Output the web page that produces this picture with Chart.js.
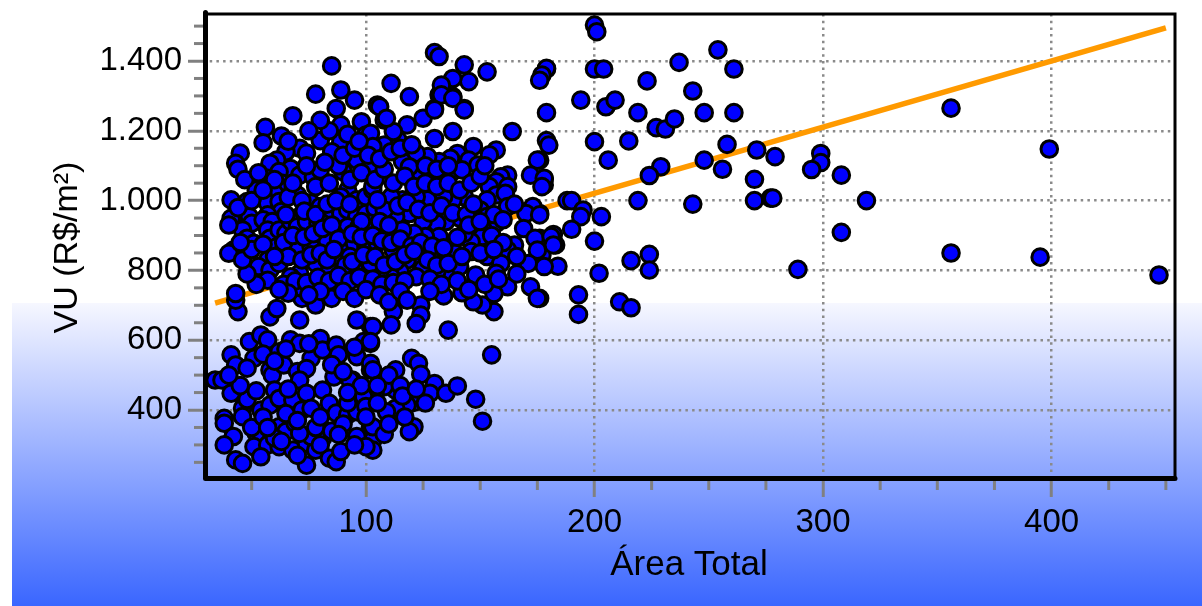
<!DOCTYPE html>
<html>
<head>
<meta charset="utf-8">
<script src="https://cdn.jsdelivr.net/npm/chart.js@4.4.1/dist/chart.umd.min.js"></script>
<style>
  html, body { margin: 0; padding: 0; background: #fff; }
  #wrap { width: 1202px; height: 606px; }
</style>
</head>
<body>
<div id="wrap"><canvas id="grafico" width="1202" height="606"></canvas></div>
<script>
// amostras [área total, VU]
const pontosDispersos = [
  [200,1503],[201,1484],[254,1432],[237,1396],[179,1377],[200,1377],[204,1377],[261,1377],[223,1343],[243,1314],
  [194,1288],[205,1269],[209,1288],[179,1252],[219,1252],[248,1252],[261,1252],[227,1209],[231,1205],[235,1234],
  [179,1172],[180,1159],[200,1169],[215,1171],[258,1161],[176,1116],[206,1116],[271,1145],[279,1126],[299,1135],
  [299,1109],[295,1089],[308,1073],[248,1116],[229,1097],[224,1072],[256,1090],[270,1061],[178,1062],[178,1045],
  [176,963],[188,1000],[190,1000],[219,1000],[243,990],[270,1000],[277,1007],[278,1007],[319,1000],[308,909],
  [289,803],[195,973],[194,954],[203,954],[190,918],[182,903],[183,873],[176,892],[177,844],[200,884],
  [184,812],[202,792],[216,828],[224,846],[224,801],[176,720],[193,730],[193,674],[211,710],[216,693],
  [356,1265],[356,850],[399,1148],[395,838],[447,787]
];

const pontosBaixosDireita = [
  [136,629],[155,558],[120,548],[123,534],[124,502],[113,515],[130,476],[128,448],[135,448],[140,469],
  [148,431],[151,368],[121,422],[118,414],[121,352],[119,338],[113,457],[108,467],[113,405],[109,395],
  [102,352],[103,314],[103,285],[102,515],[104,448],[102,591],[162,753],[172,753],[175,720],[156,682],
  [151,701],[147,710],[156,734],[142,736],[134,727],[124,701],[124,672],[122,648],[112,682],[111,644],
  [102,639],[148,768]
];

const pontosBaixosEsquerda = [
  [44,682],[43,715],[43,734],[71,658],[58,667],[61,691],[78,701],[72,720],[72,749],[96,658],
  [103,639],[49,596],[54,615],[57,601],[41,558],[43,529],[51,548],[62,567],[67,601],[71,591],
  [58,515],[59,500],[64,529],[70,510],[76,548],[74,519],[71,486],[80,605],[81,572],[87,586],
  [88,558],[34,486],[37,486],[43,452],[41,448],[46,405],[38,376],[46,381],[54,400],[58,414],
  [60,457],[62,433],[68,429],[72,400],[74,448],[76,405],[81,457],[86,495],[94,486],[84,419],
  [87,391],[62,352],[65,338],[69,362],[38,362],[42,324],[38,300],[52,333],[51,295],[57,300],
  [43,257],[46,247],[54,266],[62,295],[68,285],[74,305],[78,285],[81,319],[74,242],[84,262],
  [87,252],[89,281],[76,324],[71,333],[96,324],[103,352],[100,295],[93,486],[99,438],[92,386],
  [96,395],[100,410],[96,553],[102,534],[103,515],[99,596],[102,596],
  [48,430],[50,350],[55,380],[60,320],[65,390],[66,460],[70,370],[78,350],[80,380],[85,340],
  [90,360],[92,420],[95,300],[98,470],[100,380],[105,420],[108,330],[110,500],[115,470],[116,440],
  [55,560],[60,540],[65,575],[75,590],[85,530],[90,510],[95,580],[48,520],[52,455],[57,350],
  [63,310],[70,270],[80,300],[88,330],[92,450],[45,470],[40,500],[105,470],[110,360],[117,380],
  [122,460],[126,420]
];

const pontosAltosEsquerda = [
  [68,1243],[56,1210],[55,1166],[63,1185],[45,1136],[43,1107],[44,1090],[78,1305],[89,1317],[95,1288],
  [87,1264],[89,1217],[98,1226],[100,1188],[89,1169],[80,1172],[71,1150],[74,1136],[65,1140],[61,1116],
  [85,1140],[96,1116],[90,1083],[67,1092],[71,1073],[77,1068],[80,1088],[58,1107],[62,1083],[57,1064],
  [63,1050],[68,1030],[60,1021],[70,1016],[52,1050],[52,1030],[55,1012],[41,1002],[48,997],[43,959],
  [41,949],[57,993],[62,997],[63,969],[57,959],[76,993],[80,983],[71,955],[49,954],[50,935],
  [55,945],[59,940],[46,916],[48,892],[51,878],[57,916],[58,892],[62,916],[61,868],[65,906],
  [67,940],[70,925],[74,940],[79,935],[82,954],[85,973],[89,963],[42,858],[40,849],[63,849],
  [57,830],[53,811],[70,858],[76,868],[78,820],[71,792],[58,801],[57,772],[92,1030],[89,1011],
  [96,1002],[100,1011],[103,1030],[92,973],[96,954],[100,963],[104,978],[92,925],[97,925],[103,925],
  [86,906],[83,887],[89,868],[95,878],[100,868],[87,840],[93,840],[100,830],[84,801],[90,801],
  [96,801],[102,811],[67,782],[85,1386]
];

const pontosCentro = [
  [119,1298],[138,1298],[132,1303],[143,1264],[130,1264],[125,1236],[118,1217],[108,1231],[105,1274],[164,1198],
  [138,1198],[130,1178],[114,1174],[112,1198],[108,1159],[147,1155],[157,1145],[154,1131],[140,1135],[145,1116],
  [149,1102],[137,1121],[132,1112],[127,1126],[122,1136],[116,1112],[175,1116],[172,1073],[178,1064],[177,1040],
  [162,1073],[159,1068],[157,1054],[154,1040],[162,1040],[138,1083],[142,1088],[132,1068],[128,1078],[124,1078],
  [119,1097],[157,1016],[161,1021],[153,1002],[162,983],[143,1011],[138,1002],[134,1011],[127,1002],[122,1011],
  [116,1002],[111,1011],[173,983],[170,963],[176,959],[150,973],[153,954],[157,935],[151,920],[141,950],
  [135,940],[131,935],[125,940],[119,963],[113,954],[108,973],[169,920],[174,892],[181,897],[182,873],
  [151,897],[146,882],[143,906],[137,878],[132,897],[126,897],[121,906],[116,916],[109,906],[165,873],
  [162,858],[175,858],[178,811],[171,820],[153,840],[159,820],[146,854],[139,849],[134,830],[128,849],
  [124,820],[118,830],[112,858],[148,787],[157,792],[137,792],[141,811],[131,797],[125,806],[122,782],
  [115,797],[111,782],[106,797],[102,1193],[103,1155],[102,1097],[103,1040],[105,1002],[102,935],[105,878],
  [102,820],[130,1424],[132,1413],[143,1389],[153,1369],[145,1341],[138,1350],[133,1331],[133,1303],[138,1293],
  [143,1260],[111,1336],[179,1379],[177,1360],[176,1345],[130,1260],[106,1269],[109,1236]
];

const pontosNucleo = [
  [66,1010],[72,1000],[78,1040],[84,1050],[88,1100],[93,1060],[98,1080],[104,1060],[108,1090],[112,1050],
  [117,1070],[121,1040],[126,1050],[131,1040],[136,1050],[141,1030],[146,1050],[150,1070],[152,1100],
  [65,960],[73,970],[78,960],[83,990],[87,1000],[93,990],[98,940],[106,940],[110,930],[114,985],
  [118,995],[123,975],[128,965],[133,985],[138,965],[144,960],[147,990],[156,960],[160,945],[165,990],
  [64,880],[68,900],[73,895],[77,905],[81,920],[85,930],[88,890],[94,905],[98,895],[103,900],
  [107,885],[111,880],[115,890],[120,870],[124,880],[129,870],[134,865],[140,895],[145,930],[150,940],
  [155,900],[160,880],[62,820],[66,840],[72,830],[76,845],[80,850],[83,830],[86,860],[91,815],
  [94,825],[99,845],[104,840],[108,815],[113,825],[117,845],[121,855],[127,830],[131,815],[136,820],
  [142,840],[150,850],[156,860],[166,840],[64,760],[69,770],[74,765],[79,780],[84,770],[88,785],
  [93,770],[97,780],[103,775],[107,760],[112,765],[117,770],[128,775],[133,760],[140,770],[145,745],
  [152,760],[158,775],[166,790],[68,1050],[74,1100],[82,1110],[90,1130],[95,1150],[101,1130],[106,1120],
  [111,1140],[115,1150],[120,1160],[126,1100],[131,1090],[136,1100],[92,1190],[97,1170],[84,1200],[80,1230],
  [75,1200],[66,1170],[60,1060],[85,720],[90,740],[95,720],[100,745],[106,730],[110,710],[115,740],
  [118,715],[128,740],[80,740],[75,730],[66,735],[62,745],[52,760],[48,790],[46,830],[50,860],
  [55,875],[60,840],[45,880],[40,930],[44,980],[50,1000],[55,1030],[47,1060],[53,1080]
];

// reta de tendência (extremos)
const tendenciaX = [34, 450];
const tendenciaY = [706, 1495];

// eixos
const xTicks = [100, 200, 300, 400];
const xMenores = [50, 75, 125, 150, 175, 225, 250, 275, 325, 350, 375, 425, 450];
const yTicks = [400, 600, 800, 1000, 1200, 1400];
const yMenores = [250, 300, 350, 450, 500, 550, 650, 700, 750, 850, 900, 950, 1050, 1100, 1150, 1250, 1300, 1350, 1450, 1500];

const fonte = "'Liberation Sans', Arial, sans-serif";
const fmt = (v) => String(v).replace(/\B(?=(\d{3})+(?!\d))/g, '.');

const amostras = [
  ...pontosDispersos, ...pontosBaixosDireita, ...pontosBaixosEsquerda,
  ...pontosAltosEsquerda, ...pontosCentro, ...pontosNucleo,
].map(([x, y]) => ({ x, y }));

const fundo = {
  id: 'fundo',
  beforeDraw(chart) {
    const c = chart.ctx;
    c.save();
    c.fillStyle = '#ffffff';
    c.fillRect(0, 0, chart.width, chart.height);
    const g = c.createLinearGradient(0, 303, 0, 606);
    g.addColorStop(0, '#f6f7ff');
    g.addColorStop(1, '#3a66ff');
    c.fillStyle = g;
    c.fillRect(12, 303, chart.width - 12, chart.height - 303);
    c.restore();
  },
};

const moldura = {
  id: 'moldura',
  afterDraw(chart) {
    const { ctx, chartArea: a, scales: { x, y } } = chart;
    ctx.save();
    ctx.strokeStyle = '#808080';
    ctx.lineWidth = 3;
    yMenores.forEach((v) => {
      const p = y.getPixelForValue(v);
      ctx.beginPath();
      ctx.moveTo(a.left - 9, p);
      ctx.lineTo(a.left, p);
      ctx.stroke();
    });
    xMenores.forEach((v) => {
      const p = x.getPixelForValue(v);
      ctx.beginPath();
      ctx.moveTo(p, a.bottom);
      ctx.lineTo(p, a.bottom + 9);
      ctx.stroke();
    });
    ctx.strokeStyle = '#000';
    ctx.lineWidth = 3;
    ctx.beginPath();
    ctx.moveTo(a.left, a.top);
    ctx.lineTo(a.right, a.top);
    ctx.lineTo(a.right, a.bottom - 2);
    ctx.stroke();
    ctx.lineWidth = 5;
    ctx.lineJoin = 'round';
    ctx.lineCap = 'round';
    ctx.beginPath();
    ctx.moveTo(a.left + 2.5, a.top - 1.5);
    ctx.lineTo(a.left + 2.5, a.bottom - 2.5);
    ctx.lineTo(a.right, a.bottom - 2.5);
    ctx.stroke();
    ctx.restore();
  },
};

const eixoBase = {
  type: 'linear',
  ticks: { font: { family: fonte, size: 33 }, color: '#000', padding: 6, maxRotation: 0, autoSkip: false, callback: (v) => fmt(v) },
  border: { display: false, dash: [2.5, 4.2] },
};

new Chart(document.getElementById('grafico'), {
  type: 'scatter',
  data: {
    datasets: [
      {
        label: 'Amostras',
        data: amostras,
        pointRadius: 8.3,
        pointHoverRadius: 8.3,
        pointBackgroundColor: '#0000ff',
        pointBorderColor: '#000',
        pointBorderWidth: 3,
        order: 1,
      },
      {
        label: 'Tendência',
        data: tendenciaX.map((x, i) => ({ x, y: tendenciaY[i] })),
        showLine: true,
        borderColor: '#ff9a00',
        borderWidth: 5.5,
        pointRadius: 0,
        order: 2,
      },
    ],
  },
  options: {
    responsive: false,
    animation: false,
    layout: { padding: { top: 14, right: 27, bottom: 0, left: 0 } },
    plugins: { legend: { display: false }, tooltip: { enabled: false } },
    scales: {
      x: {
        ...eixoBase,
        min: 28.7,
        max: 454,
        afterBuildTicks: (s) => { s.ticks = xTicks.map((value) => ({ value })); },
        afterFit: (s) => { s.height = 125; s.paddingLeft = 0; s.paddingRight = 0; },
        grid: { color: '#8a8a8a', lineWidth: 2.5, tickLength: 16, tickWidth: 3, tickColor: '#808080' },
        title: { display: true, text: 'Área Total', font: { family: fonte, size: 35 }, color: '#000', padding: { top: 0, bottom: 20 } },
      },
      y: {
        ...eixoBase,
        min: 196.6,
        max: 1534.7,
        afterBuildTicks: (s) => { s.ticks = yTicks.map((value) => ({ value })); },
        afterFit: (s) => { s.width = 203; s.paddingTop = 0; s.paddingBottom = 0; },
        grid: { color: '#8a8a8a', lineWidth: 2.5, tickLength: 15, tickWidth: 3, tickColor: '#808080' },
        title: { display: true, text: 'VU (R$/m²)', font: { family: fonte, size: 34 }, color: '#000', padding: { top: 47, bottom: 0 } },
      },
    },
  },
  plugins: [fundo, moldura],
});
</script>
</body>
</html>
